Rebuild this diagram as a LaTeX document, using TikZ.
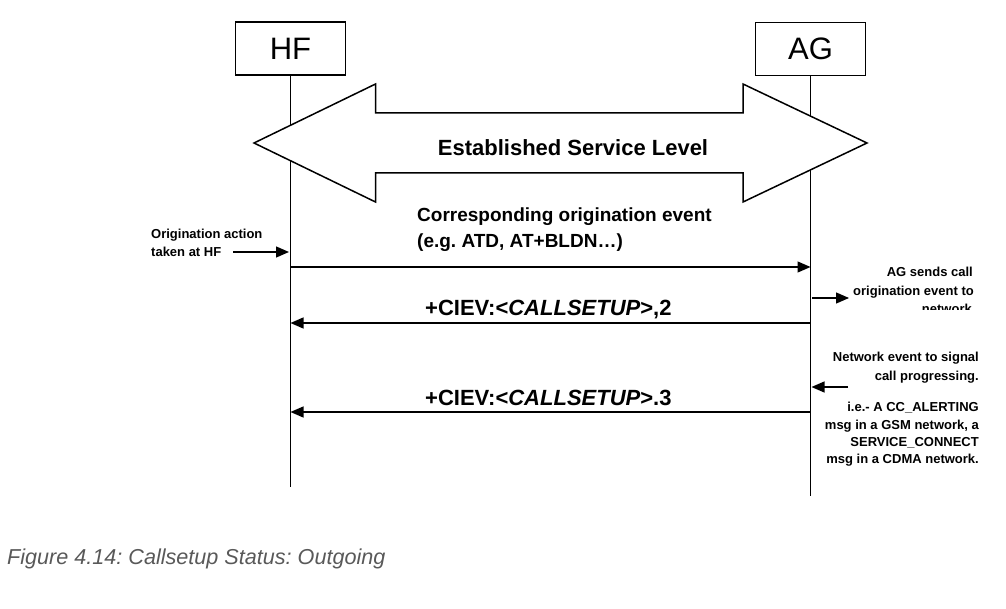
\documentclass[tikz,border=0pt]{standalone}
\usepackage{fontspec}
\setmainfont{Liberation Sans}
\usetikzlibrary{arrows.meta}
\definecolor{capgray}{RGB}{89,89,89}
\frenchspacing
\tikzset{
  entity/.style={draw, line width=1.3pt, minimum width=110pt, minimum height=53pt, inner sep=0pt, font=\fontsize{31}{34}\selectfont},
  lifeline/.style={line width=1.6pt},
  msg/.style={line width=1.3pt, -{Triangle[length=13pt,width=11pt]}},
  note/.style={inner sep=0pt, font=\fontsize{13}{16}\selectfont\bfseries},
  msgtext/.style={inner sep=0pt, font=\fontsize{22}{26}\selectfont\bfseries},
  evtext/.style={inner sep=0pt, font=\fontsize{19}{23}\selectfont\bfseries},
  bigarrow/.style={draw, fill=white, line width=1.5pt, line join=miter}
}
\begin{document}
\begin{tikzpicture}[x=1pt,y=-1pt]
\useasboundingbox[fill=white] (0,0) rectangle (1006,609);

% entities
\node[entity] (hf) at (290.5,48.5) {HF};
\node[entity] (ag) at (810.5,49) {AG};

% lifeline ends
\coordinate (hfend) at (290.5,487);
\coordinate (agend) at (810.5,496);
\draw[lifeline] (hf.south) -- (hfend);
\draw[lifeline] (ag.south) -- (agend);

% established service level arrow
\draw[bigarrow] (254,143) -- (375.5,84) -- (375.5,113) -- (743,113) -- (743,84)
  -- (867,143) -- (743,202) -- (743,173) -- (375.5,173) -- (375.5,202) -- cycle;
\node[msgtext, anchor=base] (esl) at (573,156) {Established Service Level};

% message 1
\coordinate (hf1) at (290.5,267);
\coordinate (ag1) at (810.5,267);
\draw[msg] (hf1) -- (ag1);
\node[evtext, anchor=base west] (ev1) at (417,222) {Corresponding origination event};
\node[evtext, anchor=base west] (ev2) at (417,248) {(e.g. ATD, AT+BLDN…)};

% origination action note
\node[note, anchor=base west] (oa1) at (151,239) {Origination action};
\node[note, anchor=base west] (oa2) at (151,257) {taken at HF};
\coordinate (oastart) at (233,252);
\coordinate (oaend) at (289,252);
\draw[msg] (oastart) -- (oaend);

% AG sends call note
\node[note, anchor=base east] (ags1) at (973,277) {AG sends call};
\node[note, anchor=base east] (ags2) at (974,295.5) {origination event to};
\begin{scope}
  \clip (900,295) rectangle (1000,310);
  \node[note, anchor=base east] (ags3) at (972,314) {network};
\end{scope}
\coordinate (agsstart) at (812,298);
\coordinate (agsend) at (849,298);
\draw[msg] (agsstart) -- (agsend);

% message 2
\coordinate (ag2) at (810.5,323);
\coordinate (hf2) at (290.5,323);
\draw[msg] (ag2) -- (hf2);
\node[msgtext, anchor=base west] (m2) at (425,316) {+CIEV:<\textit{CALLSETUP}>,2};

% network event note
\node[note, anchor=base east] (ne1) at (979,361.7) {Network event to signal};
\node[note, anchor=base east] (ne2) at (979,380.5) {call progressing.};
\node[note, anchor=base east] (ne3) at (979,411.7) {i.e.- A CC\_ALERTING};
\node[note, anchor=base east] (ne4) at (979,429.7) {msg in a GSM network, a};
\node[note, anchor=base east] (ne5) at (979,446.7) {SERVICE\_CONNECT};
\node[note, anchor=base east] (ne6) at (979,463.7) {msg in a CDMA network.};
\coordinate (nestart) at (848,387);
\coordinate (neend) at (811.5,387);
\draw[msg] (nestart) -- (neend);

% message 3
\coordinate (ag3) at (810.5,412);
\coordinate (hf3) at (290.5,412);
\draw[msg] (ag3) -- (hf3);
\node[msgtext, anchor=base west] (m3) at (425,405) {+CIEV:<\textit{CALLSETUP}>.3};

% caption
\node[inner sep=0pt, anchor=base west, text=capgray, font=\fontsize{21.6}{26}\selectfont\itshape] (cap) at (7,564) {Figure 4.14: Callsetup Status: Outgoing};
\end{tikzpicture}
\end{document}
